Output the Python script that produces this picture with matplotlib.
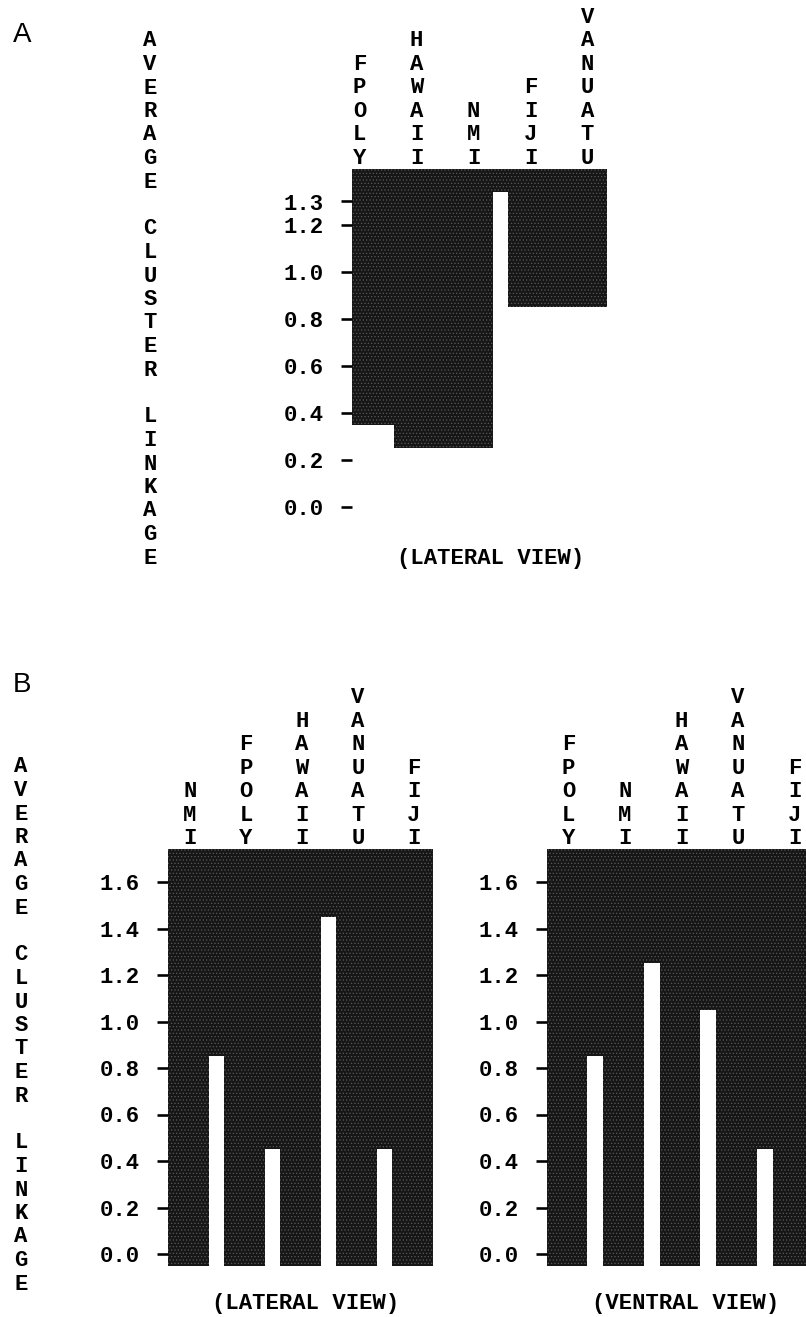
import matplotlib
matplotlib.use('Agg')
import matplotlib.pyplot as plt
from matplotlib.font_manager import FontProperties

# ---------------- data ----------------
leaves_a = ['FPOLY', 'HAWAII', 'NMI', 'FIJI', 'VANUATU']
merge_left_a = [1, 0, 3, 0]
merge_right_a = [2, 2, 4, 4]
merge_height_a = [0.25, 0.35, 0.85, 1.34]
top_a = 1.44
ticks_a = [0.0, 0.2, 0.4, 0.6, 0.8, 1.0, 1.2, 1.3]

leaves_lat = ['NMI', 'FPOLY', 'HAWAII', 'VANUATU', 'FIJI']
merge_left_lat = [1, 3, 0, 0]
merge_right_lat = [2, 4, 2, 4]
merge_height_lat = [0.45, 0.45, 0.85, 1.45]

leaves_ven = ['FPOLY', 'NMI', 'HAWAII', 'VANUATU', 'FIJI']
merge_left_ven = [3, 0, 2, 0]
merge_right_ven = [4, 1, 4, 4]
merge_height_ven = [0.45, 0.85, 1.05, 1.25]

top_b = 1.74
leaf_base_b = -0.05
ticks_b = [0.0, 0.2, 0.4, 0.6, 0.8, 1.0, 1.2, 1.4, 1.6]

ylabel_words = ['AVERAGE', 'CLUSTER', 'LINKAGE']

# ---------------- style / layout ----------------
W, H, DPI = 806, 1317, 100
FILL = '#161616'
HATCH_COLOR = '#5a5a5a'
HW = 0.36          # half width of a leaf column (leaf units)
PITCH = 23.5       # px between stacked letters
PT = 72.0 / DPI

plt.rcParams['hatch.linewidth'] = 0.5
plt.rcParams['hatch.color'] = HATCH_COLOR

fig = plt.figure(figsize=(W / DPI, H / DPI), dpi=DPI)
mono = FontProperties(family='Liberation Mono', weight='bold', size=16)
sans = FontProperties(family='Liberation Sans', size=20)

renderer = fig.canvas.get_renderer()
_, lp_h, lp_d = renderer.get_text_width_height_descent('lp', mono, ismath=False)
_, cap_h, _ = renderer.get_text_width_height_descent('E', mono, ismath=False)
_, cap_s, _ = renderer.get_text_width_height_descent('A', sans, ismath=False)
LS = (PITCH - lp_d) / (lp_h - lp_d)


def make_axes(x0, pitch, xlim, y0, yscale, ylim):
    left = x0 + pitch * xlim[0]
    right = x0 + pitch * xlim[1]
    top = y0 - yscale * ylim[1]
    bottom = y0 - yscale * ylim[0]
    ax = fig.add_axes([left / W, 1 - bottom / H, (right - left) / W, (bottom - top) / H])
    ax.set_xlim(*xlim)
    ax.set_ylim(*ylim)
    for s in ax.spines.values():
        s.set_visible(False)
    ax.patch.set_visible(False)
    ax.set_xticks([])
    return ax


def draw_tree(ax, leaves, ml, mr, mh, top, ticks, leaf_base=None):
    n = len(leaves)
    style = dict(color=FILL, edgecolor=HATCH_COLOR, linewidth=0, hatch='.....')
    if leaf_base is not None:
        ax.bar(range(n), [top - leaf_base] * n, width=2 * HW, bottom=leaf_base, **style)
    for l, r, h in zip(ml, mr, mh):
        ax.bar((l + r) / 2, top - h, width=(r - l) + 2 * HW, bottom=h, **style)
    ax.set_yticks(ticks)
    ax.set_yticklabels(['%.1f' % t for t in ticks], fontproperties=mono)
    ax.tick_params(axis='y', direction='out', length=11 * PT, width=2.6 * PT,
                   pad=17 * PT, colors='black')
    for i, name in enumerate(leaves):
        ax.annotate('\n'.join(name), xy=(i, 1), xycoords=('data', 'axes fraction'),
                    xytext=(1.5, 12.5 - cap_h / 2), textcoords='offset pixels',
                    ha='center', va='baseline', fontproperties=mono,
                    linespacing=LS, annotation_clip=False)


def fig_text(xpx, ypx_center, s, **kw):
    fig.text(xpx / W, 1 - (ypx_center + cap_h / 2) / H, s, ha='center',
             va='baseline', fontproperties=mono, **kw)


ylabel_text = '\n\n'.join('\n'.join(w) for w in ylabel_words)

# ---------------- panel A ----------------
ax_a = make_axes(358, 57, (-0.105, 4.36), 507, 235, (-0.06, top_a))
draw_tree(ax_a, leaves_a, merge_left_a, merge_right_a, merge_height_a, top_a, ticks_a)
fig_text(150, 556, ylabel_text, linespacing=LS)
fig_text(491, 557, '(LATERAL VIEW)')
fig.text(13 / W, 1 - (32 + cap_s / 2) / H, 'A', fontproperties=sans, ha='left', va='baseline')

# ---------------- panel B ----------------
ax_l = make_axes(188.5, 56, (-0.366, 4.366), 1254, 232.5, (leaf_base_b, top_b))
draw_tree(ax_l, leaves_lat, merge_left_lat, merge_right_lat, merge_height_lat,
          top_b, ticks_b, leaf_base=leaf_base_b)
ax_v = make_axes(567, 56.5, (-0.36, 4.36), 1254, 232.5, (leaf_base_b, top_b))
draw_tree(ax_v, leaves_ven, merge_left_ven, merge_right_ven, merge_height_ven,
          top_b, ticks_b, leaf_base=leaf_base_b)
fig_text(21, 1282, ylabel_text, linespacing=LS)
fig_text(306, 1302, '(LATERAL VIEW)')
fig_text(686, 1302, '(VENTRAL VIEW)')
fig.text(13 / W, 1 - (683 + cap_s / 2) / H, 'B', fontproperties=sans, ha='left', va='baseline')

fig.savefig('out.png', dpi=DPI)
